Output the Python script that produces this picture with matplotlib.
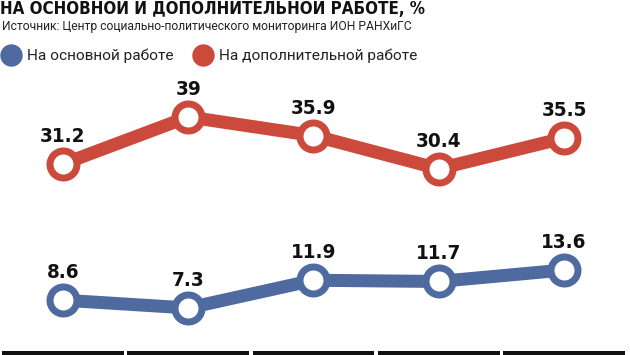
import matplotlib
matplotlib.use("Agg")
import matplotlib.pyplot as plt
from matplotlib.lines import Line2D

# values
categories = ["1", "2", "3", "4", "5"]
main_job = [8.6, 7.3, 11.9, 11.7, 13.6]
extra_job = [31.2, 39, 35.9, 30.4, 35.5]

labels = ["На основной работе", "На дополнительной работе"]
title = "НА ОСНОВНОЙ И ДОПОЛНИТЕЛЬНОЙ РАБОТЕ, %"
source = "Источник: Центр социально-политического мониторинга ИОН РАНХиГС"

BLUE = "#4f6a9e"
RED = "#cc4a3c"
DPI = 100

def px(p):
    # pixels -> points
    return p * 72.0 / DPI

fig = plt.figure(figsize=(6.3, 3.55), dpi=DPI)
ax = fig.add_axes([0, 0, 1, 1])
ax.set_xlim(-0.503, 4.527)
ax.set_ylim(-0.5, 58.4)
ax.axis("off")

x = list(range(len(categories)))
for vals, col in [(extra_job, RED), (main_job, BLUE)]:
    ax.plot(x, vals, color=col, lw=px(13), solid_capstyle="round",
            marker="o", ms=px(27), mew=px(7), mfc="white", mec=col, zorder=3)
    for xi, v in zip(x, vals):
        ax.annotate("{:g}".format(v), (xi, v), xytext=(0, px(22)),
                    textcoords="offset points", ha="center", va="baseline",
                    fontsize=px(20.5), fontweight="bold", fontstretch="condensed",
                    family="DejaVu Sans", color="#111111")

# black bands at the bottom (top of the category labels)
gap = 0.013
for xi in x:
    ax.hlines(-0.4, xi - 0.5 + gap, xi + 0.5 - gap, color="#111111",
              lw=px(6), zorder=2)

fig.text(0.0, 1 - 14 / 355, title, ha="left", va="baseline",
         fontsize=px(16.9), fontweight="bold", fontstretch="condensed",
         family="DejaVu Sans", color="#111111")
fig.text(0.003, 1 - 30 / 355, source, ha="left", va="baseline",
         fontsize=px(12.1), family=["Roboto", "DejaVu Sans"], color="#222222")

handles = [Line2D([], [], ls="none", marker="o", ms=px(21), mfc=c, mec=c)
           for c in (BLUE, RED)]
leg = fig.legend(handles, labels, loc="center left",
                 bbox_to_anchor=(0.0048, 1 - 56 / 355), ncol=2, frameon=False,
                 handletextpad=0.54, columnspacing=1.45, handlelength=1.0,
                 borderaxespad=0, borderpad=0,
                 prop={"family": ["Roboto", "DejaVu Sans"], "size": px(15.4)})
for t in leg.get_texts():
    t.set_color("#222222")

fig.savefig("out.png", dpi=DPI)
